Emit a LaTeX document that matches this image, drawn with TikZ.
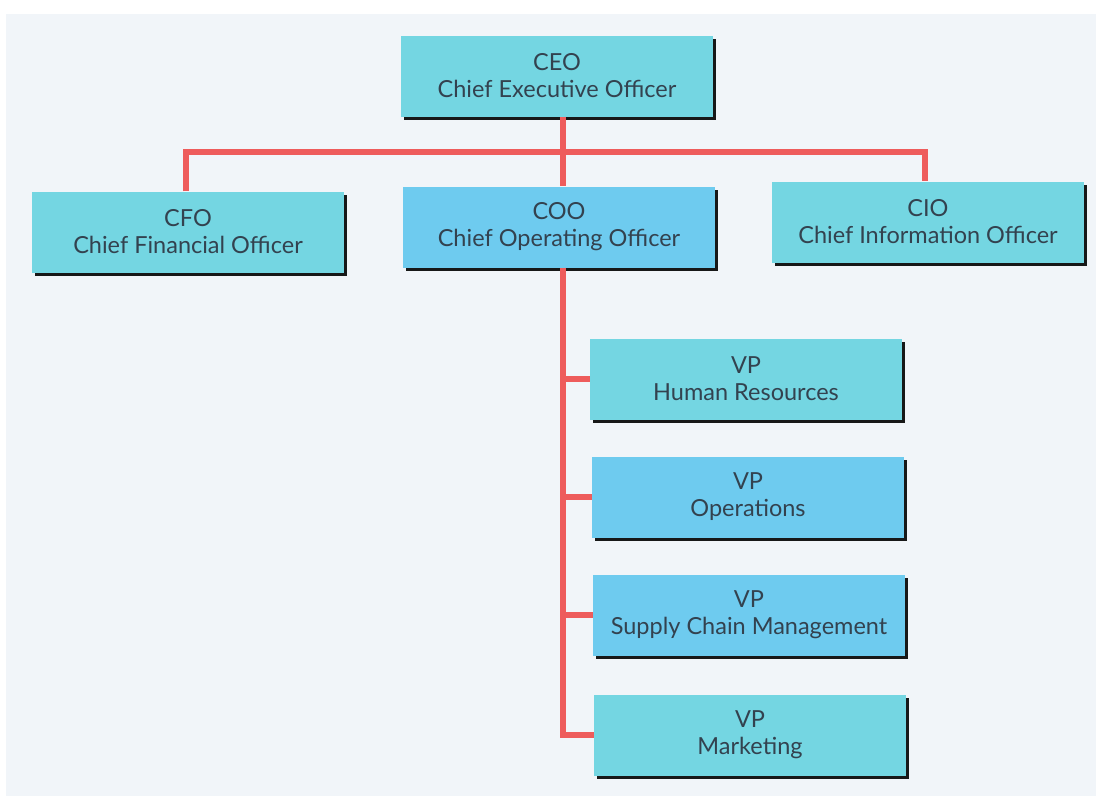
\documentclass[tikz,border=0pt]{standalone}
\usepackage{fontspec}
\setmainfont{Lato}
\usetikzlibrary{shadows}
\definecolor{bgc}{HTML}{F1F5F9}
\definecolor{tealbox}{HTML}{74D6E2}
\definecolor{bluebox}{HTML}{6ECBEF}
\definecolor{linkred}{HTML}{EE5C5C}
\definecolor{txt}{HTML}{33424F}
\begin{document}
\begin{tikzpicture}[x=1pt,y=-1pt,
  box/.style={draw=none, minimum width=312pt, minimum height=81pt,
    align=center, text=txt, font=\fontsize{23.5}{27}\selectfont,
    drop shadow={shadow xshift=3pt, shadow yshift=-3pt, fill=black, opacity=0.9}},
  tbox/.style={box, fill=tealbox},
  bbox/.style={box, fill=bluebox},
  link/.style={draw=linkred, line width=6pt}]
\useasboundingbox (0,0) rectangle (1099,798);
\fill[white] (0,0) rectangle (1099,798);
\fill[bgc] (6,14) rectangle (1096,796);
\coordinate (bus) at (0,152);
\coordinate (cfox) at (186,0);
\coordinate (ciox) at (925,0);
\coordinate (trunk) at (563,0);
\node[tbox] (ceo) at (557,76) {CEO\\Chief Executive Officer};
\node[tbox] (cfo) at (188,232) {CFO\\Chief Financial Officer};
\node[bbox] (coo) at (559,227) {COO\\Chief Operating Officer};
\node[tbox] (cio) at (928,222) {CIO\\Chief Information Officer};
\node[tbox] (hr) at (746,379) {VP\\Human Resources};
\node[bbox] (ops) at (748,497) {VP\\Operations};
\node[bbox] (scm) at (749,615) {VP\\Supply Chain Management};
\node[tbox] (mkt) at (750,735) {VP\\Marketing};
% top level connectors
\draw[link] (trunk |- ceo.south) -- (trunk |- coo.north);
\draw[link] (cfox |- cfo.north) |- (ciox |- bus) -- (ciox |- cio.north);
% COO trunk
\draw[link] (trunk |- coo.south) |- (mkt.west);
\draw[link] (trunk |- hr.west) -- (hr.west);
\draw[link] (trunk |- ops.west) -- (ops.west);
\draw[link] (trunk |- scm.west) -- (scm.west);
\end{tikzpicture}
\end{document}
